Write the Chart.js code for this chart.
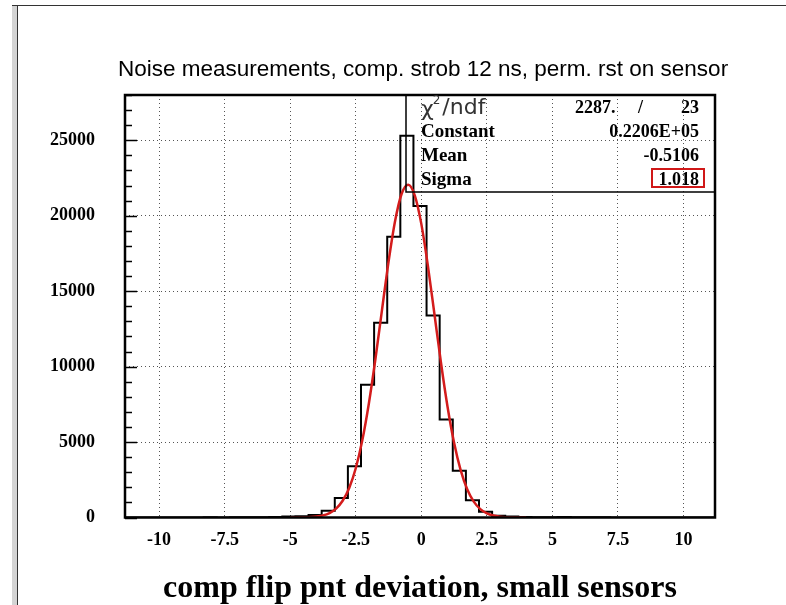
<!DOCTYPE html>
<html>
<head>
<meta charset="utf-8">
<script src="https://cdn.jsdelivr.net/npm/chart.js@4.4.0/dist/chart.umd.min.js"></script>
<style>
html, body { margin: 0; padding: 0; background: #fff; }
#wrap { position: relative; width: 786px; height: 605px; overflow: hidden; }
#c { position: absolute; left: 0; top: 0; }
.edge { position: absolute; pointer-events: none; }
</style>
</head>
<body>
<div id="wrap">
  <canvas id="c" width="786" height="605"></canvas>
  <div class="edge" style="left:12px;top:5px;width:5px;bottom:0;background:#d4d4d4;"></div>
  <div class="edge" style="left:17px;top:5px;width:1px;bottom:0;background:#333;"></div>
  <div class="edge" style="left:12px;top:5px;right:0;height:1px;background:#333;"></div>
</div>
<script>
// histogramme : 45 classes de 0.5
const xMin = -11.3;
const xMax = 11.2;
const binWidth = 0.5;
const counts = [
    0, 0, 0, 0, 0, 0, 10, 0, 10, 20,
    20, 30, 60, 90, 170, 450, 1300, 3400, 8800, 12900,
    18600, 25300, 20650, 13380, 6500, 3100, 1150, 380, 120, 60,
    30, 20, 20, 40, 20, 10, 10, 0, 0, 0,
    0, 0, 0, 0, 0
];

// courbe ajustee
const fitX = [-5, -4.5, -4, -3.75, -3.5, -3.25, -3, -2.75, -2.5, -2.25, -2, -1.75, -1.5, -1.25, -1, -0.75, -0.5,
              -0.25, 0, 0.25, 0.5, 0.75, 1, 1.25, 1.5, 1.75, 2, 2.25, 2.5, 2.75, 3, 3.5, 4];
const fitY = [1, 10, 62, 139, 295, 590, 1108, 1959, 3264, 5118, 7558, 10505, 13748, 16937, 19647, 21456, 22060,
              21352, 19460, 16695, 13485, 10256, 7344, 4950, 3141, 1877, 1054, 559, 279, 131, 58, 9, 1];

const xTicks = [-10, -7.5, -5, -2.5, 0, 2.5, 5, 7.5, 10];
const xTickLabels = ['-10', '-7.5', '-5', '-2.5', '0', '2.5', '5', '7.5', '10'];
const yTicks = [0, 5000, 10000, 15000, 20000, 25000];
const yMax = 28000;
const yMinorStep = 1000;

const chiValue = '2287.';
const ndfValue = '23';
const statNames = ['Constant', 'Mean', 'Sigma'];
const statValues = ['0.2206E+05', '-0.5106', '1.018'];

const titleText = 'Noise measurements, comp. strob 12 ns, perm. rst on sensor';
const xTitle = 'comp flip pnt deviation, small sensors';

const serifBold = 'bold 18px "Liberation Serif", "DejaVu Serif", serif';

// points de l'histogramme (bord gauche de chaque classe)
const histPoints = counts.map((c, i) => ({ x: xMin + i * binWidth, y: c }));
histPoints.push({ x: xMax, y: counts[counts.length - 1] });
const fitPoints = fitX.map((x, i) => ({ x: x, y: fitY[i] }));

// cadre, graduations internes, titre, boite de stats
const rootDeco = {
    id: 'rootDeco',
    afterDraw(chart) {
        const ctx = chart.ctx;
        const a = chart.chartArea;
        const ys = chart.scales.y;

        ctx.save();
        // graduations du y vers l'interieur
        ctx.strokeStyle = '#000';
        ctx.lineWidth = 1.5;
        for (let v = 0; v <= yMax; v += yMinorStep) {
            const py = Math.round(ys.getPixelForValue(v)) + 0.5;
            const len = v % 5000 === 0 ? 12 : 7;
            ctx.beginPath();
            ctx.moveTo(a.left, py);
            ctx.lineTo(a.left + len, py);
            ctx.stroke();
        }

        // cadre
        ctx.lineWidth = 2.5;
        ctx.strokeRect(a.left, a.top, a.right - a.left, a.bottom - a.top);

        // titre
        ctx.fillStyle = '#000';
        ctx.font = '22.5px "Liberation Sans", Arial, sans-serif';
        ctx.textAlign = 'center';
        ctx.textBaseline = 'middle';
        ctx.fillText(titleText, 423, 70);

        // boite de stats
        const bx = 406, by = 192;
        ctx.lineWidth = 1.5;
        ctx.beginPath();
        ctx.moveTo(bx, a.top);
        ctx.lineTo(bx, by);
        ctx.lineTo(a.right, by);
        ctx.stroke();

        const lx = 421, rx = 699;
        const rows = [108, 132, 156, 180];

        // chi2/ndf
        ctx.textAlign = 'left';
        ctx.fillStyle = '#333';
        ctx.font = '22px "DejaVu Sans", sans-serif';
        ctx.fillText('\u03C7', lx, rows[0] + 2);
        let w = ctx.measureText('\u03C7').width;
        ctx.font = '12px "DejaVu Sans", sans-serif';
        ctx.fillText('2', lx + w - 1, rows[0] - 7);
        w += ctx.measureText('2').width + 1;
        ctx.font = '22px "DejaVu Sans", sans-serif';
        ctx.fillText('/ndf', lx + w, rows[0]);

        ctx.fillStyle = '#000';
        ctx.font = serifBold;
        ctx.fillText(chiValue, 575, rows[0]);
        ctx.fillText('/', 638, rows[0]);
        ctx.textAlign = 'right';
        ctx.fillText(ndfValue, rx, rows[0]);

        statNames.forEach((name, i) => {
            ctx.textAlign = 'left';
            ctx.font = 'bold 19px "Liberation Serif", serif';
            ctx.fillText(name, lx, rows[i + 1]);
            ctx.textAlign = 'right';
            ctx.font = serifBold;
            ctx.fillText(statValues[i], rx, rows[i + 1]);
        });

        // encadre rouge autour de sigma
        ctx.strokeStyle = '#d01818';
        ctx.lineWidth = 2;
        ctx.strokeRect(652, 169, 52, 18);
        ctx.restore();
    }
};

new Chart(document.getElementById('c'), {
    type: 'line',
    data: {
        datasets: [
            {
                label: 'fit',
                data: fitPoints,
                borderColor: '#d41c1c',
                borderWidth: 2.5,
                pointRadius: 0,
                fill: false,
                cubicInterpolationMode: 'monotone'
            },
            {
                label: 'hist',
                data: histPoints,
                borderColor: '#000',
                borderWidth: 2,
                pointRadius: 0,
                fill: false,
                stepped: 'before'
            }
        ]
    },
    options: {
        responsive: false,
        animation: false,
        layout: { padding: { top: 95, right: 71, left: 0, bottom: 0 } },
        plugins: {
            legend: { display: false },
            tooltip: { enabled: false },
            title: { display: false }
        },
        scales: {
            x: {
                type: 'linear',
                min: xMin,
                max: xMax,
                afterBuildTicks: s => { s.ticks = xTicks.map(v => ({ value: v })); },
                afterFit: s => { s.height = 87.5; },
                ticks: {
                    autoSkip: false,
                    maxRotation: 0,
                    padding: 12,
                    color: '#000',
                    font: { family: '"Liberation Serif", serif', size: 18, weight: 'bold' },
                    callback: (v, i) => xTickLabels[i]
                },
                grid: { color: '#555', lineWidth: 1, drawTicks: false },
                border: { display: false, dash: [1, 3] },
                title: {
                    display: true,
                    text: xTitle,
                    color: '#000',
                    font: { family: '"Liberation Serif", serif', size: 32, weight: 'bold', lineHeight: 1 },
                    padding: { top: 0, bottom: 0 }
                }
            },
            y: {
                min: 0,
                max: yMax,
                afterBuildTicks: s => { s.ticks = yTicks.map(v => ({ value: v })); },
                afterFit: s => { s.width = 125; },
                ticks: {
                    padding: 30,
                    color: '#000',
                    font: { family: '"Liberation Serif", serif', size: 18, weight: 'bold' },
                    callback: v => String(v)
                },
                grid: {
                    color: ctx => ctx.tick && ctx.tick.value === 0 ? 'rgba(0,0,0,0)' : '#555',
                    lineWidth: 1,
                    drawTicks: false
                },
                border: { display: false, dash: [1, 3] }
            }
        }
    },
    plugins: [rootDeco]
});
</script>
</body>
</html>
